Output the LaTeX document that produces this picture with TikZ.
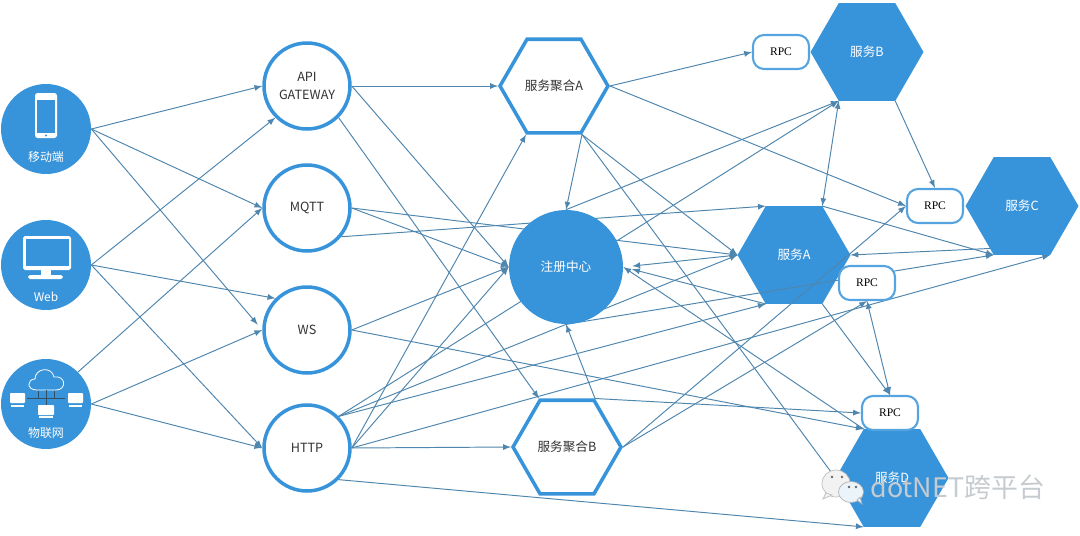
\documentclass[tikz,border=0pt]{standalone}
\usepackage{fontspec}
\setmainfont{Noto Sans CJK SC}
\newfontfamily\rpcfont{Liberation Serif}
\usetikzlibrary{shapes.geometric,backgrounds}
\definecolor{flatblue}{HTML}{3794DB}
\definecolor{lnkblue}{HTML}{4F86AE}
\definecolor{txtgray}{HTML}{333333}
\definecolor{markgray}{HTML}{C6CBCF}
\begin{document}
\begin{tikzpicture}[x=0.02cm, y=-0.02cm, >=latex,
      font=\fontsize{7.2}{10.5}\selectfont,
      src/.style={circle, fill=flatblue, minimum size=1.8cm, inner sep=0pt},
      hub/.style={circle, draw=flatblue, line width=2pt, fill=white, minimum size=1.72cm, inner sep=0pt, align=center, text=txtgray},
      reg/.style={circle, fill=flatblue, minimum size=2.28cm, inner sep=0pt, text=white},
      agg/.style={regular polygon, regular polygon sides=6, draw=flatblue, line width=2pt, fill=white, minimum size=2.16cm, inner sep=0pt, text=txtgray},
      svc/.style={regular polygon, regular polygon sides=6, fill=flatblue, minimum size=2.26cm, inner sep=0pt, outer sep=0pt, text=white},
      rpc/.style={draw=flatblue!85, line width=1.2pt, fill=white, rounded corners=0.22cm, minimum width=1.12cm, minimum height=0.68cm, inner sep=0pt, font=\rpcfont\fontsize{6.6}{8}\selectfont},
      lab/.style={text=white, inner sep=0pt, font=\fontsize{6.8}{8}\selectfont},
      lnk/.style={->, draw=lnkblue, line width=0.55pt}]
    \useasboundingbox (0,0) rectangle (1080,535);
    \begin{scope}[on background layer]
      \node[svc] (svcA) at (794,255) {服务A};
    \end{scope}
    \node[src] (mob) at (46,129) {};
    \node[src] (web) at (46,265) {};
    \node[src] (iot) at (46,404) {};
    \node[lab] (mobt) at (46,157) {移动端};
    \node[lab] (webt) at (46,297) {Web};
    \node[lab] (iott) at (46,433) {物联网};
    \node[hub] (api) at (307,86) {API\\GATEWAY};
    \node[hub] (mqtt) at (307,208) {MQTT};
    \node[hub] (ws) at (307,330) {WS};
    \node[hub] (http) at (307,448) {HTTP};
    \node[agg] (aggA) at (554,86) {服务聚合A};
    \node[agg] (aggB) at (567,447) {服务聚合B};
    \node[reg] (ctr) at (566,267) {注册中心};
    \node[svc] (svcB) at (867,52) {服务B};
    \node[svc] (svcC) at (1022,206) {服务C};
    \node[svc] (svcD) at (892,478) {服务D};
    \node[rpc] (rpcB) at (781,52) {RPC};
    \node[rpc] (rpcC) at (935,206) {RPC};
    \node[rpc] (rpcA) at (867,283) {RPC};
    \node[rpc] (rpcD) at (890,413) {RPC};
    % phone
    \fill[white, rounded corners=1.5pt] (35,93) rectangle (57,138);
    \fill[flatblue] (37,100) rectangle (55,133);
    \fill[flatblue] (46,135.5) circle (1.2);
    % monitor
    \fill[white, rounded corners=1pt] (23,236) rectangle (71,270);
    \fill[flatblue] (26,238.5) rectangle (69,266);
    \fill[white] (41,270) rectangle (51,276);
    \fill[white, rounded corners=1pt] (28,275) rectangle (63,279);
    % cloud and terminals
    \draw[white, line width=0.45pt] (37,390) .. controls (26,390) and (27,379) .. (35,379) .. controls (35,368) and (52,366) .. (54,377) .. controls (66,375) and (67,390) .. (56,390) -- cycle;
    \draw[txtgray!70!flatblue, line width=0.5pt] (27,398) -- (65,398) (38,398) -- (38,391) (46,398) -- (46,405) (46,398) -- (46,390) (54,398) -- (54,391);
    \fill[white, rounded corners=0.5pt] (10,393) rectangle (25,403);
    \fill[white] (11,405) rectangle (24,406.5);
    \fill[white, rounded corners=0.5pt] (68,393) rectangle (83,403);
    \fill[white] (69,405) rectangle (82,406.5);
    \fill[white, rounded corners=0.5pt] (38,405) rectangle (54,415);
    \fill[white] (39,416) rectangle (53,417.5);
    % connectors
    \begin{scope}[on background layer]
      \draw[lnk] (mob.east) -- (api.west);
      \draw[lnk] (mob.east) -- (mqtt.west);
      \draw[lnk, shorten >=0.14cm] (mob.east) -- (ws.west);
      \draw[lnk] (web.east) -- (api.225);
      \draw[lnk] (web.east) -- (ws.135);
      \draw[lnk] (web.east) -- (http.west);
      \draw[lnk] (iot.45) -- (mqtt.west);
      \draw[lnk] (iot.east) -- (ws.west);
      \draw[lnk] (iot.east) -- (http.west);
      \draw[lnk] (api.east) -- (aggA.corner 3);
      \draw[lnk] (api.east) -- (ctr.west);
      \draw[lnk] (api.-45) -- (aggB.corner 2);
      \draw[lnk] (mqtt.east) -- (ctr.west);
      \draw[lnk] (mqtt.east) -- (svcA.corner 3);
      \draw[lnk] (mqtt.-40) -- (svcA.corner 2);
      \draw[lnk] (ws.east) -- (ctr.west);
      \draw[lnk] (ws.east) -- (svcD.corner 2);
      \draw[lnk] (http.45) -- (svcB.corner 4);
      \draw[lnk] (http.45) -- (svcA.corner 3);
      \draw[lnk] (http.45) -- (svcA.corner 4);
      \draw[lnk] (http.east) -- (aggA.corner 4);
      \draw[lnk] (http.east) -- (ctr.west);
      \draw[lnk] (http.east) -- (svcC.corner 5);
      \draw[lnk] (http.east) -- (aggB.corner 3);
      \draw[lnk] (http.-45) -- (svcD.corner 4);
      \draw[lnk] (aggA.corner 6) -- (rpcB.west);
      \draw[lnk] (aggA.corner 6) -- (rpcC.west);
      \draw[lnk] (aggA.corner 5) -- (ctr.north);
      \draw[lnk] (aggA.corner 5) -- (svcA.corner 3);
      \draw[lnk] (aggA.corner 5) -- (svcD.corner 3);
      \draw[lnk] (aggB.corner 1) -- (ctr.south);
      \draw[lnk] (aggB.corner 1) -- (rpcD.west);
      \draw[lnk] (aggB.corner 6) -- (rpcC.west);
      \draw[lnk] (aggB.corner 6) -- (rpcA.south);
      \draw[lnk] (ctr.north) -- (svcB.corner 4);
      \draw[lnk] (ctr.south) -- (svcC.corner 4);
      \draw[lnk, shorten >=0.18cm] (svcA.corner 3) -- (ctr.east);
      \draw[lnk, shorten >=0.18cm] (svcA.corner 4) -- (ctr.east);
      \draw[lnk] (svcD.corner 2) -- (ctr.east);
      \draw[lnk, <->] (svcB.corner 4) -- (svcA.corner 1);
      \draw[lnk] (svcB.corner 5) -- (rpcC.north);
      \draw[lnk] (svcA.corner 1) -- (svcC.corner 4);
      \draw[lnk] (svcC.233) -- (svcA.corner 6);
      \draw[lnk] (svcA.corner 5) -- (rpcD.north);
      \draw[lnk, <->] (rpcA.south) -- (rpcD.north);
    \end{scope}
    % mark
    \filldraw[draw=black!25, fill=black!5, line width=0.4pt] (836,483.5) ellipse (14 and 13.5);
    \filldraw[draw=black!25, fill=black!5, line width=0.4pt] (826,493) -- (823,499) -- (832,495) -- cycle;
    \filldraw[draw=black!30, fill=flatblue!10, line width=0.4pt] (851,492) ellipse (12.5 and 10.5);
    \filldraw[draw=black!30, fill=flatblue!10, line width=0.4pt] (857,500) -- (862,504) -- (860,497) -- cycle;
    \fill[black!60] (832,477) circle (1.3) (842,477) circle (1.3) (849,487) circle (1.3) (856,487) circle (1.3);
    \node[inner sep=0pt, anchor=west, text=markgray, font=\fontsize{15.3}{17}\selectfont] (mark) at (870,487) {dotNET跨平台};
  \end{tikzpicture}
\end{document}
